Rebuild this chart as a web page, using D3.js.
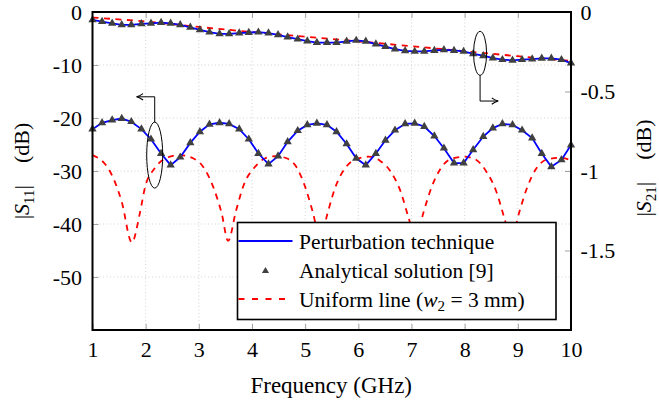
<!DOCTYPE html>
<html>
<head>
<meta charset="utf-8">
<script src="https://cdn.jsdelivr.net/npm/d3@7"></script>
</head>
<body style="margin:0">
<script>
// frequency samples (GHz), 50 points from 1 to 10
const freq = [1.00, 1.18, 1.37, 1.55, 1.73, 1.92, 2.10, 2.29, 2.47, 2.65,
  2.84, 3.02, 3.20, 3.39, 3.57, 3.76, 3.94, 4.12, 4.31, 4.49,
  4.67, 4.86, 5.04, 5.22, 5.41, 5.59, 5.78, 5.96, 6.14, 6.33,
  6.51, 6.69, 6.88, 7.06, 7.24, 7.43, 7.61, 7.80, 7.98, 8.16,
  8.35, 8.53, 8.71, 8.90, 9.08, 9.27, 9.45, 9.63, 9.82, 10.00];

// |S11| (dB), perturbation technique / analytical solution
const s11 = [-22.1, -20.9, -20.4, -20.1, -20.7, -22.1, -24.0, -26.7, -28.9, -27.4,
  -24.7, -22.6, -21.2, -20.9, -21.1, -22.1, -24.0, -26.7, -28.7, -27.2,
  -24.5, -22.4, -21.3, -21.0, -21.3, -22.6, -24.9, -27.6, -28.9, -26.7,
  -24.2, -22.3, -21.1, -21.0, -21.6, -23.4, -25.7, -28.5, -28.5, -26.0,
  -23.5, -21.9, -21.1, -21.3, -22.3, -23.8, -26.7, -29.2, -27.9, -25.1];

// |S21| (dB), perturbation technique / analytical solution (right axis)
const s21 = [-0.050, -0.060, -0.071, -0.081, -0.081, -0.075, -0.071, -0.067, -0.071, -0.081,
  -0.096, -0.112, -0.127, -0.137, -0.137, -0.133, -0.129, -0.127, -0.133, -0.144,
  -0.158, -0.171, -0.183, -0.192, -0.192, -0.192, -0.185, -0.179, -0.185, -0.202,
  -0.217, -0.233, -0.244, -0.248, -0.248, -0.242, -0.238, -0.242, -0.248, -0.263,
  -0.275, -0.290, -0.300, -0.304, -0.300, -0.296, -0.292, -0.292, -0.300, -0.321];

// uniform line (w2 = 3 mm), |S11|
const uniFreq = [1.00, 1.33, 1.55, 1.74, 1.89, 1.99, 2.17, 2.46, 2.64, 2.89,
  3.08, 3.27, 3.43, 3.55, 3.70, 3.85, 4.05, 4.25, 4.45, 4.65,
  4.85, 5.00, 5.15, 5.28, 5.42, 5.57, 5.75, 5.95, 6.20, 6.40,
  6.60, 6.80, 6.95, 7.08, 7.22, 7.38, 7.55, 7.75, 8.00, 8.20,
  8.40, 8.60, 8.75, 8.88, 9.02, 9.18, 9.35, 9.55, 9.80, 10.00];
const uniS11 = [-27.0, -30.1, -35.8, -43.5, -38.0, -33.0, -29.5, -27.3, -27.0, -27.6,
  -29.2, -33.0, -38.0, -43.2, -37.5, -32.5, -29.3, -27.6, -27.2, -27.6,
  -29.5, -33.0, -38.0, -43.0, -38.0, -33.0, -29.5, -27.8, -27.3, -28.0,
  -30.0, -34.0, -39.0, -43.0, -38.0, -33.0, -29.5, -27.7, -27.3, -27.8,
  -30.0, -34.0, -39.0, -43.0, -38.0, -33.0, -29.5, -27.8, -27.5, -28.0];

// uniform line, |S21| (right axis)
const uniS21Freq = [1, 2, 3, 4, 5, 6, 7, 8, 9, 10];
const uniS21 = [-0.035, -0.060, -0.094, -0.126, -0.155, -0.185, -0.215, -0.247, -0.278, -0.308];

const xTicks = [1, 2, 3, 4, 5, 6, 7, 8, 9, 10];
const leftTicks = [0, -10, -20, -30, -40, -50];
const rightTicks = [0, -0.5, -1, -1.5];

const width = 659, height = 403;
const plot = {left: 92.5, right: 571, top: 12, bottom: 330};

const x = d3.scaleLinear([1, 10], [plot.left, plot.right]);
const yL = d3.scaleLinear([-60, 0], [plot.bottom, plot.top]);
const yR = d3.scaleLinear([-2, 0], [plot.bottom, plot.top]);

const fs = 22;

// serif face: inline style for the family, attribute for the size
function face(sel, size) {
  sel.style("font-family", '"Liberation Serif"').attr("font-size", size);
}

const svg = d3.select("body").append("svg")
    .attr("width", width)
    .attr("height", height);

// grid
const grid = svg.append("g")
    .attr("stroke", "#c8c8c8")
    .attr("stroke-width", 0.8)
    .attr("stroke-dasharray", "1,2.5");
grid.selectAll("line.v")
  .data(xTicks.slice(1, -1))
  .join("line")
    .attr("x1", d => x(d)).attr("x2", d => x(d))
    .attr("y1", plot.top).attr("y2", plot.bottom);
grid.selectAll("line.h")
  .data(leftTicks.slice(1))
  .join("line")
    .attr("y1", d => yL(d)).attr("y2", d => yL(d))
    .attr("x1", plot.left).attr("x2", plot.right);

// axes (ticks inward)
function styleAxis(g) {
  g.attr("font-family", null).attr("font-size", null);
  g.select(".domain").remove();
  g.selectAll(".tick line").attr("stroke", "#999").attr("stroke-width", 0.9);
  g.selectAll(".tick text").attr("fill", "#000").call(face, fs);
}

svg.append("g")
    .attr("transform", `translate(0,${plot.bottom})`)
    .call(d3.axisBottom(x).tickValues(xTicks).tickSize(-6).tickPadding(11).tickFormat(d3.format("d")))
    .call(styleAxis);

svg.append("g")
    .attr("transform", `translate(0,${plot.top})`)
    .call(d3.axisTop(x).tickValues(xTicks.slice(1, -1)).tickSize(-6).tickFormat(""))
    .call(styleAxis);

svg.append("g")
    .attr("transform", `translate(${plot.left},0)`)
    .call(d3.axisLeft(yL).tickValues(leftTicks).tickSize(-6).tickPadding(10.5).tickFormat(d => String(d)))
    .call(styleAxis);

svg.append("g")
    .attr("transform", `translate(${plot.right},0)`)
    .call(d3.axisRight(yR).tickValues(rightTicks).tickSize(-6).tickPadding(9.5).tickFormat(d => String(d)))
    .call(styleAxis);

// curves
const lineL = d3.line().x(d => x(d[0])).y(d => yL(d[1]));
const lineR = d3.line().x(d => x(d[0])).y(d => yR(d[1]));
const smoothL = d3.line().x(d => x(d[0])).y(d => yL(d[1])).curve(d3.curveMonotoneX);
const smoothR = d3.line().x(d => x(d[0])).y(d => yR(d[1])).curve(d3.curveMonotoneX);

const s11pts = d3.zip(freq, s11);
const s21pts = d3.zip(freq, s21);

svg.append("path")
    .attr("d", smoothL(d3.zip(uniFreq, uniS11)))
    .attr("fill", "none").attr("stroke", "#ff0000")
    .attr("stroke-width", 1.8).attr("stroke-dasharray", "6,5.5");

svg.append("path")
    .attr("d", smoothR(d3.zip(uniS21Freq, uniS21)))
    .attr("fill", "none").attr("stroke", "#ff0000")
    .attr("stroke-width", 1.8).attr("stroke-dasharray", "6,5.5");

svg.append("path")
    .attr("d", lineL(s11pts))
    .attr("fill", "none").attr("stroke", "#0000ff").attr("stroke-width", 1.8);

svg.append("path")
    .attr("d", lineR(s21pts))
    .attr("fill", "none").attr("stroke", "#0000ff").attr("stroke-width", 1.8);

const tri = d3.symbol(d3.symbolTriangle, 30);
const markerFill = "#404040";

svg.append("g")
  .selectAll("path")
  .data(s11pts)
  .join("path")
    .attr("d", tri)
    .attr("transform", d => `translate(${x(d[0])},${yL(d[1])})`)
    .attr("fill", markerFill);

svg.append("g")
  .selectAll("path")
  .data(s21pts)
  .join("path")
    .attr("d", tri)
    .attr("transform", d => `translate(${x(d[0])},${yR(d[1])})`)
    .attr("fill", markerFill);

// annotations: ellipses with arrows pointing to the matching axis
svg.append("defs").append("marker")
    .attr("id", "arrow")
    .attr("viewBox", "0 0 10 10")
    .attr("refX", 9).attr("refY", 5)
    .attr("markerWidth", 8).attr("markerHeight", 8)
    .attr("markerUnits", "userSpaceOnUse")
    .attr("orient", "auto")
  .append("path")
    .attr("d", "M1,1 Q5,4 9,5 Q5,6 1,9")
    .attr("fill", "none").attr("stroke", "#000").attr("stroke-width", 1.4);

const ann = svg.append("g").attr("fill", "none").attr("stroke", "#000").attr("stroke-width", 1);
const e1 = {cx: x(2.17), cy: yL(-27), rx: 8, ry: 33};
ann.append("ellipse").attr("cx", e1.cx).attr("cy", e1.cy).attr("rx", e1.rx).attr("ry", e1.ry);
ann.append("path")
    .attr("d", `M${e1.cx},${e1.cy - e1.ry} V${yL(-16)} H${x(1.83)}`)
    .attr("marker-end", "url(#arrow)");

const e2 = {cx: x(8.29), cy: yR(-0.26), rx: 6.5, ry: 22};
ann.append("ellipse").attr("cx", e2.cx).attr("cy", e2.cy).attr("rx", e2.rx).attr("ry", e2.ry);
ann.append("path")
    .attr("d", `M${e2.cx},${e2.cy + e2.ry} V${yR(-0.56)} H${x(8.63)}`)
    .attr("marker-end", "url(#arrow)");

// frame
svg.append("rect")
    .attr("x", plot.left).attr("y", plot.top)
    .attr("width", plot.right - plot.left).attr("height", plot.bottom - plot.top)
    .attr("fill", "none").attr("stroke", "#000").attr("stroke-width", 2);

// axis titles
svg.append("text")
    .attr("x", (plot.left + plot.right) / 2 - 0.5)
    .attr("y", 393)
    .attr("text-anchor", "middle")
    .call(face, 23)
    .text("Frequency (GHz)");

function sLabel(sel, sub) {
  sel.call(face, fs);
  sel.append("tspan").text("|");
  sel.append("tspan").attr("font-style", "italic").text("S");
  sel.append("tspan").attr("font-size", 15).attr("dy", 5).text(sub);
  sel.append("tspan").attr("dy", -5).text("|\u2002\u2002(dB)");
}

svg.append("text")
    .attr("transform", "translate(29,171) rotate(-90)")
    .attr("text-anchor", "middle")
    .call(sLabel, "11");

svg.append("text")
    .attr("transform", "translate(651,168) rotate(-90)")
    .attr("text-anchor", "middle")
    .call(sLabel, "21");

// legend
const lg = svg.append("g").attr("transform", "translate(237.5,222.5)");
lg.append("rect")
    .attr("width", 318.5).attr("height", 97)
    .attr("fill", "#fff").attr("stroke", "#000").attr("stroke-width", 1.6);

const legendItems = [
  {label: "Perturbation technique", type: "line"},
  {label: "Analytical solution [9]", type: "marker"},
  {label: "Uniform line", type: "dash"}
];
const rowY = [18.5, 47.5, 76.5];

legendItems.forEach((item, i) => {
  const row = lg.append("g").attr("transform", `translate(0,${rowY[i]})`);
  if (item.type === "line") {
    row.append("line").attr("x1", 1).attr("x2", 55)
        .attr("stroke", "#0000ff").attr("stroke-width", 1.8);
  } else if (item.type === "marker") {
    row.append("path").attr("d", d3.symbol(d3.symbolTriangle, 22))
        .attr("transform", "translate(28,1)").attr("fill", markerFill);
  } else {
    row.append("line").attr("x1", 1).attr("x2", 55)
        .attr("stroke", "#ff0000").attr("stroke-width", 1.8)
        .attr("stroke-dasharray", "6,7.5");
  }
  const t = row.append("text")
      .attr("x", 61.5).attr("y", 7.5)
      .call(face, 21.5)
      .text(item.label);
  if (item.type === "dash") {
    t.append("tspan").text(" (");
    t.append("tspan").attr("font-style", "italic").text("w");
    t.append("tspan").attr("font-size", 15).attr("dy", 4).text("2");
    t.append("tspan").attr("dy", -4).text(" = 3 mm)");
  }
});
</script>
</body>
</html>
